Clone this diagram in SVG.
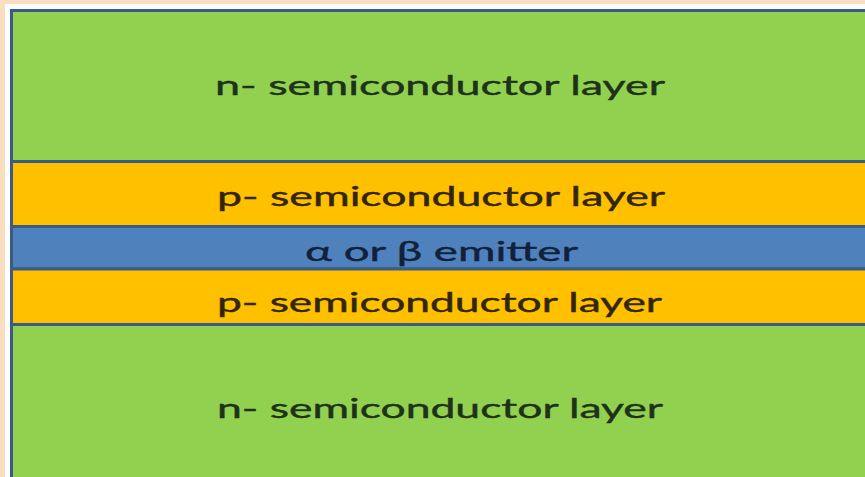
<svg xmlns="http://www.w3.org/2000/svg" width="865" height="477" viewBox="0 0 865 477">
<style>
.layer{stroke:#3A5B85;stroke-width:3}
.n{fill:#92D050}
.p{fill:#FFC000}
.e{fill:#4F81BD}
text{font-family:Lato,"Noto Sans","DejaVu Sans",sans-serif;font-size:26px;stroke-width:0.4}
.tn{fill:#1E321A;stroke:#1E321A}
.tp{fill:#332608;stroke:#332608}
.te{fill:#12213A;stroke:#12213A}
</style>
<rect x="0" y="0" width="865" height="477" fill="#FBDDBF"/>
<rect x="5" y="4" width="870" height="480" fill="#FFFFFF"/>
<g id="n-top">
<rect class="layer n" x="11.5" y="10.5" width="870" height="151"/>
<text class="tn" x="215" y="95" textLength="450" lengthAdjust="spacingAndGlyphs">n- semiconductor layer</text>
</g>
<g id="p-top">
<rect class="layer p" x="11.5" y="161.5" width="870" height="65"/>
<text class="tp" x="217" y="206" textLength="448" lengthAdjust="spacingAndGlyphs">p- semiconductor layer</text>
</g>
<g id="emitter">
<rect class="layer e" x="11.5" y="226.5" width="870" height="42.5"/>
<text class="te" x="305" y="261" textLength="273" lengthAdjust="spacingAndGlyphs">α or β emitter</text>
</g>
<g id="p-bottom">
<rect class="layer p" x="11.5" y="269" width="870" height="55.5"/>
<text class="tp" x="217" y="312" textLength="445" lengthAdjust="spacingAndGlyphs">p- semiconductor layer</text>
</g>
<g id="n-bottom">
<rect class="layer n" x="11.5" y="324.5" width="870" height="170"/>
<text class="tn" x="217" y="418" textLength="446" lengthAdjust="spacingAndGlyphs">n- semiconductor layer</text>
</g>
<g id="connectors"/>
</svg>
